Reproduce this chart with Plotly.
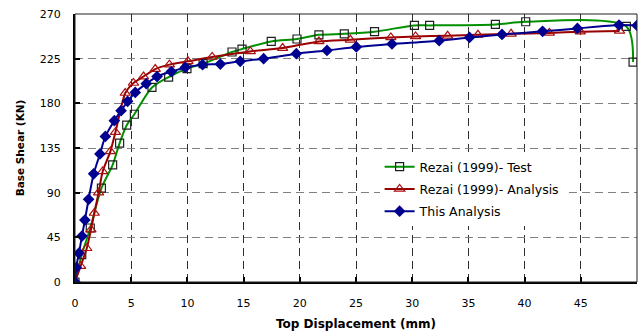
import plotly.graph_objects as go

# Rezai (1999) - Test
test_x = [0, 0.6, 1.36, 2.35, 3.35, 3.97, 4.6, 5.28, 6.85, 8.33, 9.96, 11.4, 13.97, 14.86,
          17.46, 19.75, 21.7, 23.96, 26.65, 30.2, 31.55, 37.4, 40.1, 49.05, 49.65]
test_y = [0, 27.5, 54.4, 94.5, 118, 140, 158, 169, 196, 206.5, 215, 220, 231.7, 234.7,
          242.4, 244.8, 249, 250, 252.2, 258.5, 258.5, 259.5, 262.2, 257.5, 221.6]

# Rezai (1999) - Analysis
ana_x = [0, 0.5, 1.05, 1.42, 1.72, 2.1, 2.46, 3.15, 3.6, 4.47, 5.2, 6.1, 7.14, 8.4, 10.05,
         12.2, 15.6, 18.47, 21.7, 24.5, 28.1, 30.3, 33.15, 35.85, 38.8, 42.2, 44.95, 48.45]
ana_y = [0, 16, 34, 52.7, 69.5, 90, 111.4, 131.6, 151, 190.4, 200.5, 207, 214.5, 219, 222.3,
         226.7, 232.3, 235.7, 242.4, 244, 246.4, 247.4, 248, 249, 250, 250.9, 252.2, 252.9]

# This Analysis
this_x = [0, 0.1, 0.35, 0.62, 0.88, 1.21, 1.66, 2.22, 2.7, 3.5, 4.1, 4.68, 5.36, 6.34, 7.3,
          8.57, 9.81, 11.35, 12.93, 14.7, 16.78, 19.69, 22.42, 25.03, 28.2, 32.4, 35.1,
          37.99, 41.6, 44.7, 48.4, 50.0]
this_y = [0, 14.5, 29, 46.3, 62.4, 83.3, 109, 129, 146.7, 162.5, 172.6, 182, 191, 199.8, 207,
          212, 216.2, 218.9, 219.6, 222.3, 225, 230, 233.3, 236.8, 239.8, 243.1, 246.4,
          249.4, 252.5, 255.5, 258.9, 258.5]

x_ticks = [0, 5, 10, 15, 20, 25, 30, 35, 40, 45, 50]
y_ticks = [0, 45, 90, 135, 180, 225, 270]

FONT = "DejaVu Sans"

fig = go.Figure()
fig.add_trace(go.Scatter(
    x=test_x, y=test_y, name="Rezai (1999)- Test", mode="lines+markers",
    line=dict(color="#009000", width=2, shape="spline", smoothing=0.8),
    marker=dict(symbol="square-open", size=8, color="#202020", line=dict(width=1.2)),
    legendgroup="a"))
fig.add_trace(go.Scatter(
    x=ana_x, y=ana_y, name="Rezai (1999)- Analysis", mode="lines+markers",
    line=dict(color="#990000", width=2, shape="spline", smoothing=0.6),
    marker=dict(symbol="triangle-up-open", size=9, color="#aa1010", line=dict(width=1.2)),
    legendgroup="b"))
fig.add_trace(go.Scatter(
    x=this_x, y=this_y, name="This Analysis", mode="lines+markers",
    line=dict(color="#000090", width=2, shape="spline", smoothing=0.6),
    marker=dict(symbol="diamond", size=9, color="#000090"),
    legendgroup="c"))

axis_common = dict(
    showline=True, linecolor="black", linewidth=2, mirror=False,
    ticks="inside", ticklen=5, tickcolor="black", tickwidth=1.5,
    showgrid=True, griddash="8px,5px", gridwidth=1, zeroline=False,
    tickfont=dict(family=FONT, size=11, color="black"),
)

fig.update_xaxes(range=[0, 50], tickvals=x_ticks, gridcolor="#303030",
                 ticklabelstandoff=10,
                 title=dict(text="<b>Top Displacement (mm)</b>",
                            font=dict(family=FONT, size=12, color="black"), standoff=10),
                 **axis_common)
fig.update_yaxes(range=[0, 270], tickvals=y_ticks, gridcolor="#808080",
                 ticklabelstandoff=10,
                 title=dict(text="<b>Base Shear (KN)</b>",
                            font=dict(family=FONT, size=10.5, color="black"), standoff=13),
                 **axis_common)

fig.add_shape(type="rect", xref="paper", yref="paper", x0=0, x1=1, y0=0, y1=1,
              line=dict(color="#202020", width=1), layer="above")

fig.update_layout(
    width=641, height=334,
    margin=dict(l=75, r=4, t=14, b=52),
    plot_bgcolor="white", paper_bgcolor="white",
    font=dict(family=FONT, size=12, color="black"),
    legend=dict(x=0.542, y=0.485, xanchor="left", yanchor="top",
                bgcolor="white", borderwidth=0,
                font=dict(family=FONT, size=12.5, color="black"),
                traceorder="grouped", tracegroupgap=3,
                itemwidth=30),
    showlegend=True,
)

fig.write_html("out.html")
